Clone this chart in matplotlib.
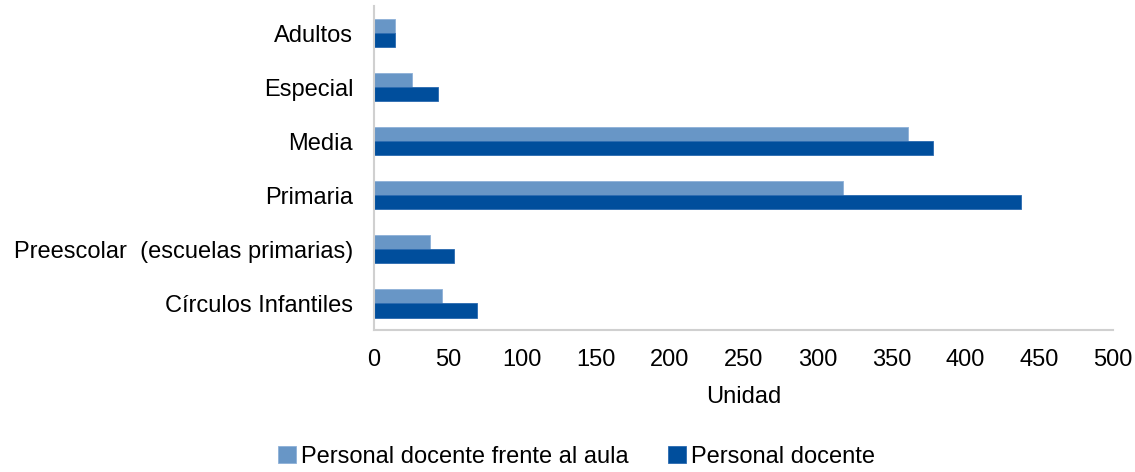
import numpy as np
import matplotlib
matplotlib.use("Agg")
import matplotlib.pyplot as plt

plt.rcParams["font.family"] = ["Liberation Sans", "DejaVu Sans"]

# Data (bottom to top)
categories = ["Círculos Infantiles", "Preescolar  (escuelas primarias)", "Primaria",
              "Media", "Especial", "Adultos"]
frente_aula = [46, 38, 317, 361, 26, 14]
docentes = [70, 54, 438, 378, 43, 14]

light = "#6896C6"
dark = "#004E9C"
fs = 17

fig = plt.figure(figsize=(11.35, 4.72), dpi=100)
ax = fig.add_axes([0.3295, 0.2998, 0.6511, 0.6872])

y = np.arange(len(categories))
h = 0.26
ax.barh(y + h / 2, frente_aula, height=h, color=light, edgecolor="#8DB0D8", linewidth=0.6,
        label="Personal docente frente al aula")
ax.barh(y - h / 2, docentes, height=h, color=dark, edgecolor="#2A6AB0", linewidth=0.6,
        label="Personal docente")

ax.set_xlim(0, 500)
ax.set_ylim(-0.5, len(categories) - 0.5)
ax.set_xticks(np.arange(0, 501, 50))
ax.set_yticks(y)
ax.set_yticklabels(categories)
ax.tick_params(axis="both", length=0, labelsize=fs, colors="black")
ax.tick_params(axis="y", pad=15)
ax.tick_params(axis="x", pad=13)

for s in ["top", "right"]:
    ax.spines[s].set_visible(False)
for s in ["left", "bottom"]:
    ax.spines[s].set_color("#D0D0D0")
    ax.spines[s].set_linewidth(1.5)

ax.set_xlabel("Unidad", fontsize=fs, labelpad=11)

fig.legend(loc="lower center", bbox_to_anchor=(0.508, -0.036), ncol=2, frameon=False,
           fontsize=fs, handlelength=0.75, handleheight=0.75, handletextpad=0.2,
           columnspacing=1.7)

fig.savefig("out.png", dpi=100)
